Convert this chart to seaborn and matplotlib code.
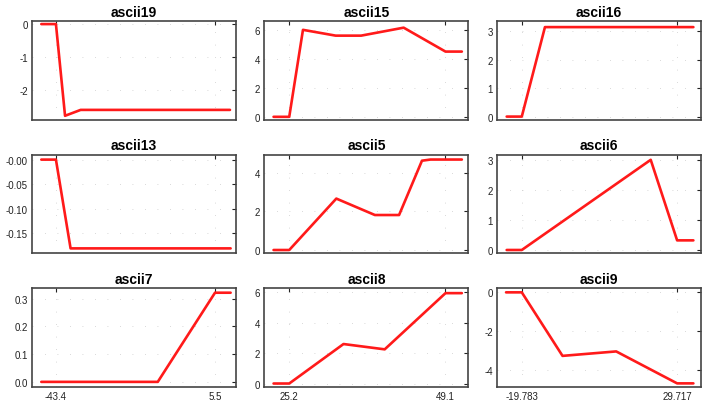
import matplotlib
matplotlib.use("Agg")
import matplotlib.pyplot as plt
import pandas as pd
import seaborn as sns

# Titles of the nine panels (row by row)
titles = ["ascii19", "ascii15", "ascii16",
          "ascii13", "ascii5", "ascii6",
          "ascii7", "ascii8", "ascii9"]

# x breakpoints / y values for each panel
x19 = [-47.9, -43.4, -40.6, -35.8, 10.1]
y19 = [0.0, 0.0, -2.8, -2.62, -2.62]
x15 = [22.8, 25.2, 27.3, 32.3, 36.2, 42.7, 49.1, 51.6]
y15 = [0.0, 0.0, 6.0, 5.6, 5.6, 6.15, 4.5, 4.5]
x16 = [-24.6, -19.783, -12.4, 34.9]
y16 = [0.0, 0.0, 3.15, 3.15]

x13 = [-47.9, -43.4, -38.9, 10.3]
y13 = [0.0, 0.0, -0.181, -0.181]
x5 = [22.8, 25.2, 32.4, 38.3, 42.0, 45.5, 46.8, 51.6]
y5 = [0.0, 0.0, 2.66, 1.81, 1.81, 4.62, 4.68, 4.68]
x6 = [-24.6, -19.783, 21.3, 29.717, 34.9]
y6 = [0.0, 0.0, 3.0, 0.32, 0.32]

x7 = [-47.9, -43.4, -12.1, 5.5, 10.3]
y7 = [0.0, 0.0, 0.0, 0.322, 0.322]
x8 = [22.8, 25.2, 33.5, 39.8, 49.1, 51.6]
y8 = [0.0, 0.0, 2.6, 2.25, 5.95, 5.95]
x9 = [-24.8, -19.783, -6.8, 10.3, 29.717, 34.9]
y9 = [0.0, 0.0, -3.28, -3.05, -4.7, -4.7]

xs = [x19, x15, x16, x13, x5, x6, x7, x8, x9]
ys = [y19, y15, y16, y13, y5, y6, y7, y8, y9]

# x ticks shared by each column
col_xticks = [[-43.4, 5.5], [25.2, 49.1], [-19.783, 29.717]]
col_xlabels = [["-43.4", "5.5"], ["25.2", "49.1"], ["-19.783", "29.717"]]
col_xlim = [(-50.8, 11.9), (21.4, 52.6), (-27.7, 37.3)]

# y ticks per panel
yticks = [[0, -1, -2], [0, 2, 4, 6], [0, 1, 2, 3],
          [0, -0.05, -0.10, -0.15], [0, 2, 4], [0, 1, 2, 3],
          [0, 0.1, 0.2, 0.3], [0, 2, 4, 6], [0, -2, -4]]
ylabels = [["0", "-1", "-2"], ["0", "2", "4", "6"], ["0", "1", "2", "3"],
           ["-0.00", "-0.05", "-0.10", "-0.15"], ["0", "2", "4"], ["0", "1", "2", "3"],
           ["0.0", "0.1", "0.2", "0.3"], ["0", "2", "4", "6"], ["0", "-2", "-4"]]
ylims = [(-2.92, 0.09), (-0.2, 6.6), (-0.11, 3.36),
         (-0.191, 0.01), (-0.17, 4.93), (-0.11, 3.17),
         (-0.018, 0.338), (-0.22, 6.27), (-4.88, 0.21)]

sns.set_style("white")
plt.rcParams['font.family'] = ['Liberation Sans', 'DejaVu Sans']

fig, axes = plt.subplots(3, 3, figsize=(7.08, 4.10), dpi=100)
fig.subplots_adjust(left=0.045, right=0.990, top=0.946, bottom=0.054,
                    wspace=0.14, hspace=0.355)

for i, ax in enumerate(axes.flat):
    row, col = divmod(i, 3)
    df = pd.DataFrame({"x": xs[i], "y": ys[i]})
    sns.lineplot(data=df, x="x", y="y", ax=ax, color="#ff1a1a",
                 linewidth=1.9, sort=False)
    ax.set_title(titles[i], fontsize=10, fontweight="bold", pad=4, color="black")
    ax.set_xlim(col_xlim[col])
    ax.set_ylim(ylims[i])
    ax.set_xticks(col_xticks[col])
    if row == 2:
        ax.set_xticklabels(col_xlabels[col])
    else:
        ax.set_xticklabels([])
    ax.set_yticks(yticks[i])
    ax.set_yticklabels(ylabels[i])
    ax.set_xlabel("")
    ax.set_ylabel("")
    ax.tick_params(direction="in", length=3, width=0.8, top=True, right=True,
                   labelsize=7, colors="#222222", pad=3)
    ax.grid(True, color="#cccccc", linestyle=(0, (1, 14)), linewidth=0.6)
    for sp in ax.spines.values():
        sp.set_color("#444444")
        sp.set_linewidth(1.2)

fig.savefig("out.png", dpi=100)
